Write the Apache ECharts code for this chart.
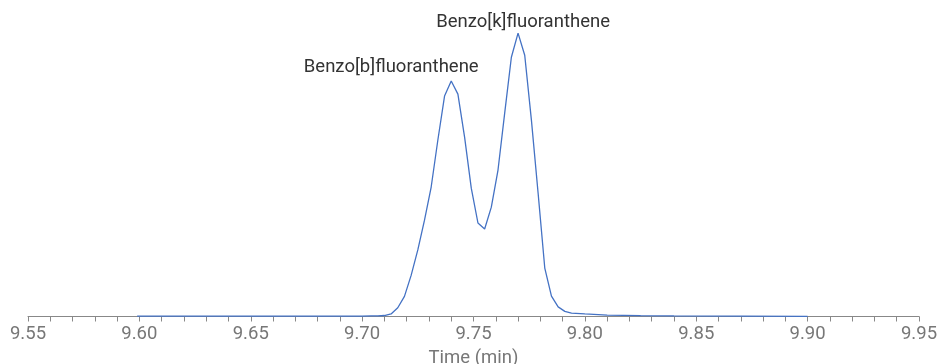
<!DOCTYPE html>
<html lang="en">
<head>
    <meta charset="UTF-8">
    <title>Chromatogram</title>
    <script src="https://cdn.jsdelivr.net/npm/echarts@6/dist/echarts.min.js"></script>
    <style>
        html, body { margin: 0; padding: 0; background: #fff; }
    </style>
</head>
<body>
<div id="main" style="width: 941px;height:364px;"></div>
<script type="text/javascript">
    // retention time (min) and relative intensity
    var times = [9.599, 9.650, 9.700, 9.704, 9.707, 9.710, 9.713, 9.716, 9.719, 9.722,
        9.725, 9.728, 9.731, 9.734, 9.737, 9.740, 9.743, 9.746, 9.749, 9.752,
        9.755, 9.758, 9.761, 9.764, 9.767, 9.770, 9.773, 9.776, 9.779, 9.782,
        9.785, 9.788, 9.791, 9.794, 9.800, 9.810, 9.825, 9.840, 9.870, 9.900];
    var intensity = [0.1, 0.1, 0.15, 0.2, 0.2, 0.35, 0.9, 3.1, 7.1, 14.5,
        23.5, 34.0, 45.7, 62.3, 77.8, 83.1, 78.5, 63.3, 45.3, 33.0,
        30.9, 38.6, 51.7, 71.8, 91.5, 100, 92.2, 69.3, 43.6, 17.1,
        7.2, 3.4, 1.8, 1.2, 0.9, 0.5, 0.3, 0.2, 0.1, 0.07];

    // peak annotations
    var peakNames = ['Benzo[b]fluoranthene', 'Benzo[k]fluoranthene'];
    var peakTimes = [9.740, 9.770];
    var peakOffsets = [[-60, -14], [5, -11]];

    var myChart = echarts.init(document.getElementById('main'));

    var seriesData = [];
    for (var i = 0; i < times.length; i++) {
        seriesData.push([times[i], intensity[i]]);
    }

    var marks = [];
    for (var j = 0; j < peakNames.length; j++) {
        var k = times.indexOf(peakTimes[j]);
        marks.push({
            name: peakNames[j],
            coord: [times[k], intensity[k]],
            label: { offset: peakOffsets[j] }
        });
    }

    var option = {
        animation: false,
        textStyle: { fontFamily: 'Roboto' },
        grid: { left: 28, right: 22, top: 19, bottom: 47.5, outerBoundsMode: 'none', containLabel: false },
        xAxis: {
            type: 'value',
            min: 9.55,
            max: 9.95,
            interval: 0.05,
            name: 'Time (min)',
            nameLocation: 'middle',
            nameGap: 28,
            nameTextStyle: { color: '#777', fontSize: 18.5, fontFamily: 'Roboto' },
            axisLine: { lineStyle: { color: '#888', width: 1 } },
            axisTick: { show: true, length: 5, lineStyle: { color: '#888' } },
            minorTick: { show: true, splitNumber: 5, length: 5, lineStyle: { color: '#888' } },
            splitLine: { show: false },
            axisLabel: {
                color: '#777',
                fontSize: 18.5,
                fontFamily: 'Roboto',
                margin: 8,
                formatter: function (v) { return v.toFixed(2); }
            }
        },
        yAxis: {
            type: 'value',
            min: 0,
            max: 105,
            show: false
        },
        series: [{
            type: 'line',
            data: seriesData,
            showSymbol: false,
            lineStyle: { color: '#4472c4', width: 1.3 },
            itemStyle: { color: '#4472c4' },
            markPoint: {
                symbol: 'circle',
                symbolSize: 0,
                label: {
                    show: true,
                    position: 'inside',
                    formatter: '{b}',
                    color: '#333',
                    fontSize: 18.5,
                    fontFamily: 'Roboto'
                },
                data: marks
            }
        }]
    };
    myChart.setOption(option);
</script>
</body>
</html>
